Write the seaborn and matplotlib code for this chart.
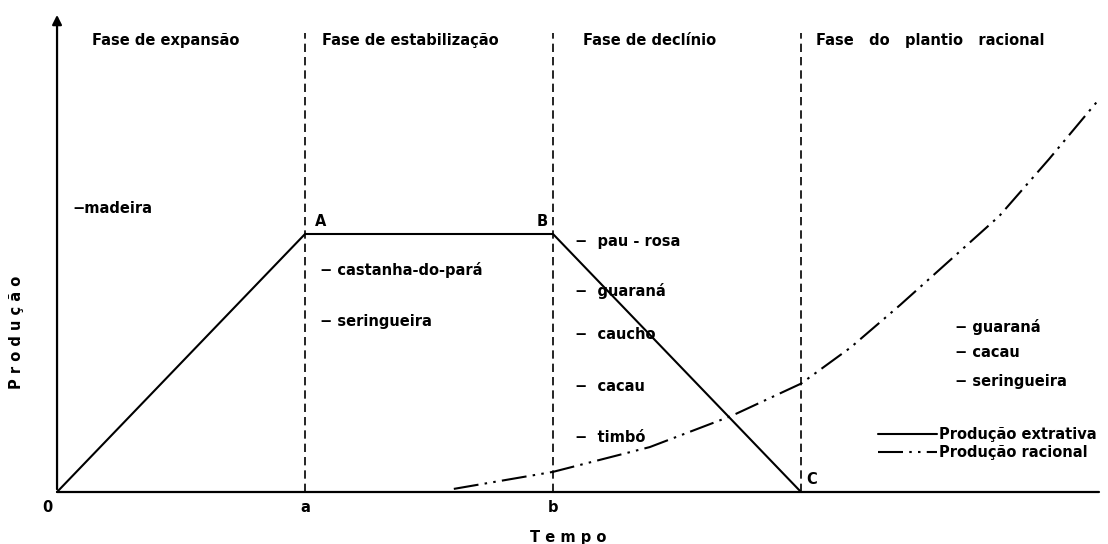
import matplotlib
matplotlib.use("Agg")
import matplotlib.pyplot as plt
import seaborn as sns
import pandas as pd

# fases (posições no eixo do tempo)
fase_x = [1, 2, 3]
fase_nomes = ["Fase de expansão", "Fase de estabilização", "Fase de declínio",
              "Fase   do   plantio   racional"]
fase_nome_x = [0.14, 1.07, 2.12, 3.06]

# produção extrativa: 0 -> A -> B -> C
extr_t = [0, 1, 2, 3]
extr_p = [0, 1, 1, 0]

# produção racional
rac_t = [1.60, 2.0, 2.39, 2.72, 3.0, 3.2, 3.4, 3.8, 4.0, 4.2]
rac_p = [0.012, 0.078, 0.174, 0.295, 0.42, 0.56, 0.725, 1.07, 1.29, 1.52]

# produtos por fase
prod_exp = ["−madeira"]
prod_est = ["− castanha-do-pará", "− seringueira"]
prod_est_y = [0.86, 0.66]
prod_dec = ["−  pau - rosa", "−  guaraná", "−  caucho", "−  cacau", "−  timbó"]
prod_dec_y = [0.97, 0.78, 0.61, 0.41, 0.21]
prod_rac = ["− guaraná", "− cacau", "− seringueira"]
prod_rac_y = [0.64, 0.54, 0.43]

sns.set_style("white")
plt.rcParams["font.family"] = ["DejaVu Sans"]

fig = plt.figure(figsize=(11.08, 5.44), dpi=100)
ax = fig.add_axes([0, 0, 1, 1])

fs = 10.5
tk = dict(color="black", fontsize=fs, fontweight="bold")

# eixos
ax.plot([0, 4.2], [0, 0], color="black", lw=1.6)
ax.annotate("", xy=(0, 1.86), xytext=(0, 0),
            arrowprops=dict(arrowstyle="-|>", color="black", lw=1.6,
                            mutation_scale=14))

# linhas de fase
for x in fase_x:
    ax.plot([x, x], [0, 1.78], color="black", lw=1.2, ls=(0, (5, 3)))

df_e = pd.DataFrame({"t": extr_t, "p": extr_p})
df_r = pd.DataFrame({"t": rac_t, "p": rac_p})
sns.lineplot(data=df_e, x="t", y="p", ax=ax, color="black", lw=1.5,
             label="Produção extrativa", sort=False)
sns.lineplot(data=df_r, x="t", y="p", ax=ax, color="black", lw=1.5,
             label="Produção racional", sort=False)
ax.lines[-1].set_linestyle((0, (12, 3, 1.2, 3, 1.2, 3)))
ax.axis("off")
ax.set_xlim(-0.23, 4.238)
ax.set_ylim(-0.2016, 1.907)

leg = ax.legend(loc="upper left", bbox_to_anchor=(0.786, 0.228), frameon=False,
                handlelength=4.0, handletextpad=0.15, labelspacing=0.2,
                borderpad=0, labelcolor="black",
                prop=dict(size=fs, weight="bold"))
leg.get_lines()[1].set_linestyle((0, (12, 3, 1.2, 3, 1.2, 3)))

# títulos das fases
for x, s in zip(fase_nome_x, fase_nomes):
    ax.text(x, 1.75, s, ha="left", va="center", **tk)

# pontos e rótulos
ax.text(-0.04, -0.06, "0", ha="center", va="center", **tk)
ax.text(1, -0.06, "a", ha="center", va="center", **tk)
ax.text(2, -0.06, "b", ha="center", va="center", **tk)
ax.text(1.04, 1.05, "A", ha="left", va="center", **tk)
ax.text(1.98, 1.05, "B", ha="right", va="center", **tk)
ax.text(3.02, 0.05, "C", ha="left", va="center", **tk)

ax.text(0.06, 1.10, prod_exp[0], ha="left", va="center", **tk)
for s, y in zip(prod_est, prod_est_y):
    ax.text(1.06, y, s, ha="left", va="center", **tk)
for s, y in zip(prod_dec, prod_dec_y):
    ax.text(2.09, y, s, ha="left", va="center", **tk)
for s, y in zip(prod_rac, prod_rac_y):
    ax.text(3.62, y, s, ha="left", va="center", **tk)

ax.text(2.06, -0.175, "T e m p o", ha="center", va="center", **tk)
ax.text(-0.165, 0.62, "P r o d u ç ã o", ha="center", va="center",
        rotation=90, **tk)

fig.savefig("out.png", dpi=100)
